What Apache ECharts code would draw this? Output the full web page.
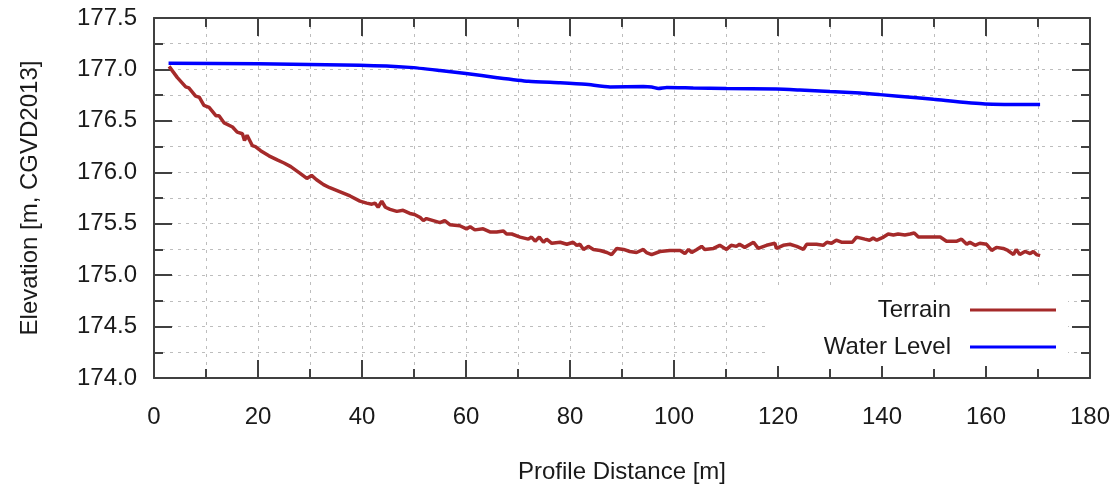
<!DOCTYPE html>
<html>
<head>
<meta charset="utf-8">
<script src="https://cdn.jsdelivr.net/npm/echarts@6/dist/echarts.min.js"></script>
<style>
  html, body { margin: 0; padding: 0; background: #fff; }
  #chart { width: 1114px; height: 489px; }
</style>
</head>
<body>
<div id="chart"></div>
<script>
// profile data
const terrainDist = [
  2.9, 4.5, 6.1, 6.7, 8.0, 8.7, 9.6, 10.6, 11.9, 12.5, 13.5, 15.1, 16.0, 17.0, 17.4, 17.9, 18.9, 19.5, 20.5, 22.1,
  23.7, 25.0, 26.3, 28.1, 29.4, 30.3, 31.2, 32.6, 33.8, 35.8, 37.7, 39.6, 40.9, 41.9, 42.5, 43.1, 43.8, 44.5, 45.4, 46.7,
  47.9, 49.2, 50.1, 51.2, 51.8, 52.4, 53.7, 55.0, 55.9, 56.9, 58.8, 60.1, 60.8, 61.7, 63.3, 64.6, 65.9, 67.2, 67.8, 68.8,
  69.1, 70.4, 72.0, 72.6, 73.3, 74.1, 74.9, 75.5, 76.5, 78.1, 79.4, 80.6, 81.3, 81.9, 82.6, 83.5, 84.5, 85.8, 87.1, 88.0,
  89.0, 90.3, 91.5, 92.8, 94.1, 94.7, 95.7, 97.3, 99.2, 101.2, 102.1, 102.8, 103.4, 104.4, 105.3, 105.9, 107.6, 108.8, 110.1, 111.0,
  112.0, 112.6, 113.6, 115.3, 116.2, 117.8, 119.4, 119.7, 121.0, 122.3, 123.6, 124.9, 125.5, 127.4, 128.7, 129.4, 130.3, 131.2, 132.2, 134.3,
  135.1, 136.7, 137.6, 138.3, 139.0, 140.3, 141.2, 142.2, 143.1, 144.4, 145.4, 146.2, 147.0, 148.6, 150.2, 151.2, 152.4, 154.4, 155.3, 156.3,
  156.9, 157.9, 158.8, 160.1, 161.1, 162.0, 163.3, 164.2, 165.3, 165.8, 166.5, 167.5, 168.5, 169.1, 169.7, 170.4
];
const terrainElev = [
  177.03, 176.92, 176.83, 176.82, 176.74, 176.73, 176.65, 176.63, 176.55, 176.55, 176.48, 176.44, 176.39, 176.375, 176.31, 176.36, 176.26, 176.25, 176.21, 176.16,
  176.12, 176.09, 176.055, 175.99, 175.94, 175.97, 175.93, 175.88, 175.85, 175.81, 175.77, 175.72, 175.70, 175.69, 175.70, 175.66, 175.72, 175.66, 175.64, 175.62,
  175.63, 175.60, 175.59, 175.56, 175.53, 175.55, 175.53, 175.51, 175.53, 175.49, 175.48, 175.45, 175.47, 175.44, 175.45, 175.42, 175.42, 175.43, 175.40, 175.40,
  175.41, 175.37, 175.35, 175.37, 175.33, 175.37, 175.32, 175.35, 175.31, 175.32, 175.30, 175.32, 175.29, 175.30, 175.25, 175.28, 175.25, 175.24, 175.22, 175.20,
  175.26, 175.25, 175.23, 175.22, 175.25, 175.22, 175.20, 175.23, 175.24, 175.24, 175.21, 175.25, 175.22, 175.25, 175.28, 175.25, 175.26, 175.29, 175.25, 175.29,
  175.28, 175.30, 175.27, 175.32, 175.26, 175.29, 175.31, 175.26, 175.29, 175.30, 175.28, 175.25, 175.30, 175.30, 175.29, 175.32, 175.31, 175.34, 175.32, 175.32,
  175.37, 175.35, 175.34, 175.36, 175.34, 175.37, 175.40, 175.39, 175.40, 175.39, 175.40, 175.41, 175.37, 175.37, 175.37, 175.37, 175.33, 175.33, 175.35, 175.30,
  175.32, 175.29, 175.31, 175.30, 175.24, 175.27, 175.26, 175.24, 175.20, 175.25, 175.20, 175.23, 175.21, 175.23, 175.20, 175.19
];
const waterDist = [
  2.8, 20, 39.6, 49.2, 55, 60, 66, 72, 78.1, 83, 87.7, 94.1, 95.7, 97, 98.6,
  103.7, 110.1, 119.7, 124.2, 130, 135.8, 139.6, 146.7, 149.9, 159.8, 170.4
];
const waterElev = [
  177.06, 177.055, 177.04, 177.02, 176.99, 176.96, 176.92, 176.885, 176.87, 176.855, 176.83, 176.835, 176.83, 176.815, 176.825,
  176.82, 176.815, 176.81, 176.80, 176.785, 176.77, 176.755, 176.725, 176.71, 176.665, 176.66
];
const seriesNames = ['Terrain', 'Water Level'];

const X_MIN = 0, X_MAX = 180, X_STEP = 20;
const Y_MIN = 174.0, Y_MAX = 177.5, Y_STEP = 0.5;

const FONT = 'Liberation Sans';
const FONT_SIZE = 24;
const AXIS_COLOR = '#404040';
const GRID_COLOR = '#bdbdbd';

function pairs(xs, ys) {
  return xs.map((x, i) => [x, ys[i]]);
}

// gnuplot style: ticks pointing inward on every side, dotted grid on major + minor ticks
function makeAxis(kind, position, main) {
  const isX = kind === 'x';
  return {
    type: 'value',
    position: position,
    min: isX ? X_MIN : Y_MIN,
    max: isX ? X_MAX : Y_MAX,
    interval: isX ? X_STEP : Y_STEP,
    name: main ? (isX ? 'Profile Distance [m]' : 'Elevation [m, CGVD2013]') : '',
    nameLocation: 'middle',
    nameGap: isX ? 82 : 112,
    nameTextStyle: { fontFamily: FONT, fontSize: FONT_SIZE, color: '#1a1a1a' },
    axisLine: { show: true, onZero: false, lineStyle: { color: AXIS_COLOR, width: 2 } },
    axisTick: { show: true, inside: true, length: 18, lineStyle: { color: AXIS_COLOR, width: 2 } },
    minorTick: { show: true, splitNumber: 2, length: 9, lineStyle: { color: AXIS_COLOR, width: 2 } },
    axisLabel: {
      show: main,
      margin: isX ? 27 : 17,
      fontFamily: FONT,
      fontSize: FONT_SIZE,
      color: '#1a1a1a',
      formatter: isX ? (v) => String(v) : (v) => v.toFixed(1)
    },
    splitLine: { show: main, lineStyle: { color: GRID_COLOR, type: [3, 5], width: 1 } },
    minorSplitLine: { show: main, lineStyle: { color: GRID_COLOR, type: [3, 5], width: 1 } }
  };
}

const chart = echarts.init(document.getElementById('chart'));
chart.setOption({
  animation: false,
  backgroundColor: '#fff',
  grid: { left: 154, right: 24, top: 18, bottom: 107, containLabel: false },
  xAxis: [makeAxis('x', 'bottom', true), makeAxis('x', 'top', false)],
  yAxis: [makeAxis('y', 'left', true), makeAxis('y', 'right', false)],
  legend: {
    orient: 'vertical',
    align: 'right',
    right: 46,
    top: 290,
    padding: [7, 12, 6, 56],
    backgroundColor: '#fff',
    icon: 'rect',
    itemWidth: 86,
    itemHeight: 3,
    itemGap: 11,
    textStyle: { fontFamily: FONT, fontSize: FONT_SIZE, color: '#1a1a1a', lineHeight: 26, padding: [0, 14, 0, 0] },
    data: seriesNames
  },
  series: [
    {
      name: seriesNames[0],
      type: 'line',
      symbol: 'none',
      color: '#a52a2a',
      lineStyle: { color: '#a52a2a', width: 3.5 },
      data: pairs(terrainDist, terrainElev)
    },
    {
      name: seriesNames[1],
      type: 'line',
      symbol: 'none',
      smooth: 0.2,
      color: '#0000ff',
      lineStyle: { color: '#0000ff', width: 3.5 },
      data: pairs(waterDist, waterElev)
    }
  ]
});
</script>
</body>
</html>
